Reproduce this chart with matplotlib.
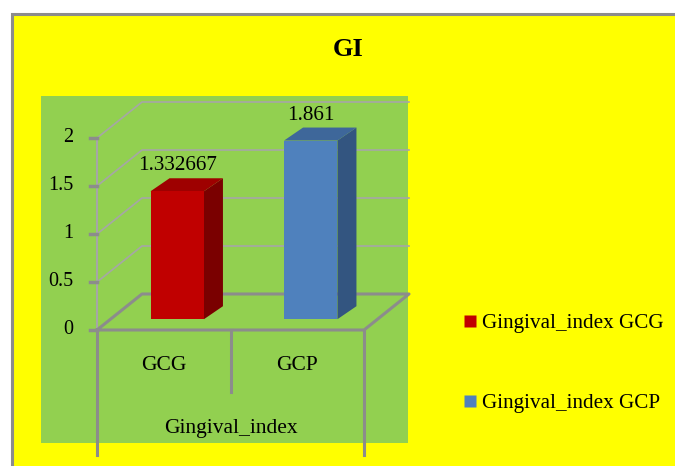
"""Recreate the 3D-style GI bar chart as out.png."""
import numpy as np
import matplotlib
matplotlib.use("Agg")
import matplotlib.pyplot as plt
from matplotlib.patches import Rectangle, Polygon
from matplotlib.lines import Line2D

categories = ["GCG", "GCP"]
values = [1.332667, 1.861]
value_labels = ["1.332667", "1.861"]
series_names = ["Gingival_index GCG", "Gingival_index GCP"]
yticks = [0, 0.5, 1, 1.5, 2]
ytick_labels = ["0", "0.5", "1", "1.5", "2"]
axis_title = "Gingival_index"
title = "GI"

front_col = ["#C00000", "#4F81BD"]
side_col = ["#7A0000", "#335580"]
top_col = ["#9E0000", "#3E679A"]

W, H = 675, 466
plt.rcParams["font.family"] = ["Liberation Serif", "DejaVu Serif"]

fig = plt.figure(figsize=(W / 100, H / 100), dpi=100)
fig.patch.set_facecolor("white")

# backgrounds in figure pixels
px = lambda x, y: (x / W, 1 - y / H)
fig.patches.append(Rectangle(px(11.5, 480), (W + 20) / W, (480 - 14) / H,
                             transform=fig.transFigure, facecolor="#FFFF00",
                             edgecolor="#8C8C8C", linewidth=2.2, zorder=-2))
fig.patches.append(Rectangle(px(40.5, 443), (408 - 40.5) / W, (443 - 96) / H,
                             transform=fig.transFigure, facecolor="#92D050",
                             edgecolor="none", zorder=-1))

# axes over the whole figure; data coords = front plane of the 3D box
ax = fig.add_axes([0, 0, 1, 1])
ax.set_zorder(3)
ax.set_facecolor("none")
ax.axis("off")
x0px, xs = 97, 133.5      # px for category 0, px per category
y0px, ys = 330, 96.0      # px (from top) for value 0, px per unit
ax.set_xlim(-x0px / xs, (W - x0px) / xs)
ax.set_ylim(-(H - y0px) / ys, y0px / ys)

n = len(categories)
dx, dy = 45 / xs, 36 / ys           # full depth of the box
grid_c, floor_c = "#A6A6A6", "#8C8C8C"

# left wall + back wall gridlines
for t in yticks[1:]:
    ax.plot([0, dx, n + dx], [t, t + dy, t + dy], color=grid_c, lw=1.2, zorder=2)
ax.plot([0, 0], [0, yticks[-1]], color=grid_c, lw=1.5, zorder=2)
# floor
ax.plot([0, dx, n + dx, n, 0], [0, dy, dy, 0, 0], color=floor_c, lw=2.2, zorder=2)
# tick marks
for t, lab in zip(yticks, ytick_labels):
    ax.plot([-7 / xs, 0], [t, t], color=floor_c, lw=2.5, zorder=3)
    ax.text(-24 / xs, t, lab, ha="right", va="center", fontsize=14.5, zorder=5)
# category separators
ax.plot([0, 0], [0, -125 / ys], color=floor_c, lw=2.2, zorder=2)
ax.plot([n, n], [0, -125 / ys], color=floor_c, lw=2.2, zorder=2)
for i in range(1, n):
    ax.plot([i, i], [0, -62 / ys], color=floor_c, lw=2.2, zorder=2)

# bars
bd = 0.30               # depth fraction of bar front
bw = 0.40
sx, sy = 19 / xs, 13 / ys   # bar depth offset
ox, oy = bd * dx, bd * dy
for i, (v, lab) in enumerate(zip(values, value_labels)):
    xl = i + 0.5 - bw / 2 + ox
    xr = xl + bw
    yb, yt = oy, oy + v
    ax.add_patch(Polygon([(xr, yb), (xr + sx, yb + sy), (xr + sx, yt + sy), (xr, yt)],
                         closed=True, facecolor=side_col[i], edgecolor="none", zorder=4))
    ax.add_patch(Polygon([(xl, yt), (xr, yt), (xr + sx, yt + sy), (xl + sx, yt + sy)],
                         closed=True, facecolor=top_col[i], edgecolor="none", zorder=4))
    ax.bar(xl, v, width=bw, bottom=yb, align="edge", color=front_col[i], zorder=4)
    ax.text((xl + xr) / 2, yt + sy + 3 / ys, lab, ha="center", va="bottom",
            fontsize=15.2, zorder=5)

for i, c in enumerate(categories):
    ax.text(i + 0.5, -36 / ys, c, ha="center", va="center", fontsize=15.5, zorder=5)
ax.text(n / 2, -98 / ys, axis_title, ha="center", va="center", fontsize=15.5, zorder=5)

fig.text(348 / W, 1 - 49 / H, title, ha="center", va="center", fontsize=19,
         fontweight="bold")

handles = [Line2D([], [], marker="s", linestyle="none", markersize=8,
                  markerfacecolor=front_col[i], markeredgecolor="none")
           for i in range(n)]
leg = fig.legend(handles, series_names, loc="upper left",
                 bbox_to_anchor=(455 / W, 1 - 305 / H), frameon=False,
                 fontsize=15.2, handlelength=0.6, handletextpad=0.3,
                 labelspacing=2.85, borderaxespad=0)

fig.savefig("out.png", dpi=100)
